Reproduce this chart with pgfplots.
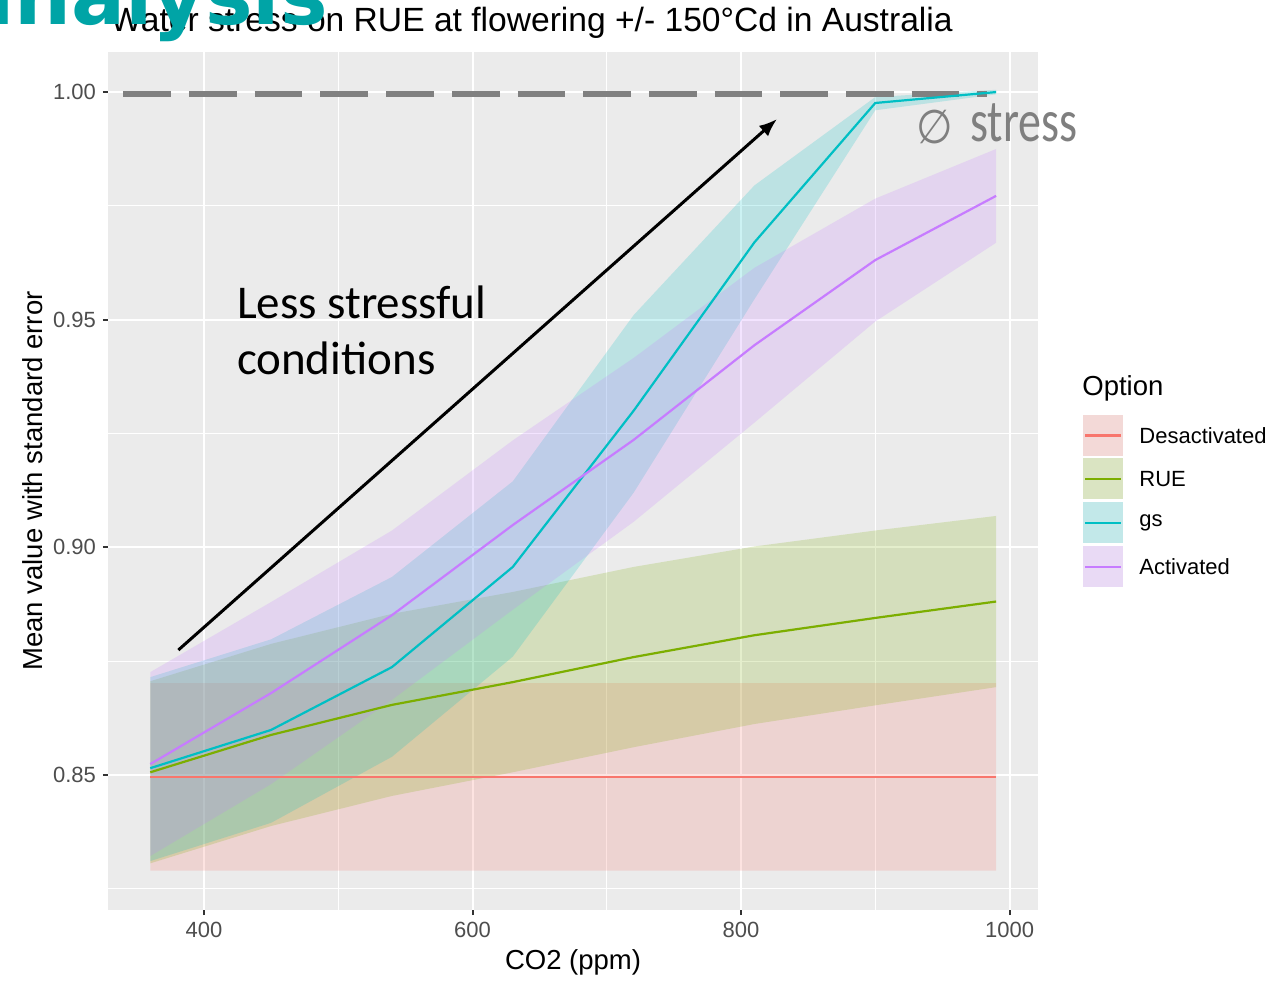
\documentclass[border=0pt]{standalone}
\usepackage{fontspec}
\setmainfont{Liberation Sans}
\newfontfamily\carlito{Carlito}
\newfontfamily\dejavu{DejaVu Sans}
\usepackage{pgfplots}
\pgfplotsset{compat=1.18}
\usepackage{pgfplotstable}
\usetikzlibrary{arrows.meta}
\usepgfplotslibrary{fillbetween}

\definecolor{cD}{HTML}{F8766D}
\definecolor{cR}{HTML}{7CAE00}
\definecolor{cG}{HTML}{00BFC4}
\definecolor{cA}{HTML}{C77CFF}
\definecolor{panel}{HTML}{EBEBEB}
\definecolor{tickc}{HTML}{333333}
\definecolor{labc}{HTML}{4D4D4D}
\definecolor{dashc}{HTML}{808080}
\definecolor{tealt}{HTML}{00A4A6}
\definecolor{keybg}{HTML}{F2F2F2}
\definecolor{anngray}{HTML}{7F7F7F}

\pgfplotstableread{
x   mD     loD    hiD    mR     loR    hiR    mG     loG    hiG    mA     loA    hiA
360 0.8496 0.8290 0.8702 0.8506 0.8306 0.8706 0.8515 0.8311 0.8715 0.8524 0.8322 0.8726
450 0.8496 0.8290 0.8702 0.8588 0.8388 0.8788 0.8599 0.8395 0.8798 0.8680 0.8480 0.8880
540 0.8496 0.8290 0.8702 0.8654 0.8454 0.8854 0.8737 0.8540 0.8935 0.8851 0.8665 0.9037
630 0.8496 0.8290 0.8702 0.8704 0.8506 0.8902 0.8957 0.8760 0.9145 0.9049 0.8863 0.9235
720 0.8496 0.8290 0.8702 0.8759 0.8561 0.8957 0.9300 0.9120 0.9510 0.9236 0.9056 0.9416
810 0.8496 0.8290 0.8702 0.8807 0.8612 0.9002 0.9670 0.9545 0.9795 0.9444 0.9274 0.9614
900 0.8496 0.8290 0.8702 0.8845 0.8653 0.9037 0.9976 0.9960 0.9989 0.9631 0.9496 0.9766
990 0.8496 0.8290 0.8702 0.8881 0.8693 0.9069 1.0000 0.9995 1.0005 0.9772 0.9669 0.9875
}\data

\begin{document}
\begin{tikzpicture}
\begin{axis}[
  set layers,
  at={(0pt,0pt)}, anchor=south west,
  scale only axis, width=465pt, height=429pt,
  xmin=328.5, xmax=1021.2, ymin=0.82035, ymax=1.0088,
  axis background/.style={fill=panel},
  axis line style={draw=none},
  xtick={400,600,800,1000}, xticklabels={400,600,800,1000},
  ytick={0.85,0.90,0.95,1.00}, yticklabels={0.85,0.90,0.95,1.00},
  minor xtick={500,700,900}, minor ytick={0.825,0.875,0.925,0.975},
  grid=both,
  major grid style={white, line width=1pt},
  minor grid style={white, line width=0.5pt},
  xtick pos=bottom, ytick pos=left,
  tick align=outside,
  major tick length=2.5pt, minor tick length=0pt,
  tick style={draw=tickc, line width=1pt},
  /pgf/number format/assume math mode=true,
  tick label style={font=\fontsize{11}{11}\selectfont, text=labc},
  clip=false,
]
% ribbons
\addplot[draw=none, name path=Dh, forget plot] table[x=x, y=hiD]{\data};
\addplot[draw=none, name path=Dl, forget plot] table[x=x, y=loD]{\data};
\addplot[fill=cD, fill opacity=0.2, draw=none] fill between[of=Dh and Dl];
\addplot[draw=none, name path=Rh, forget plot] table[x=x, y=hiR]{\data};
\addplot[draw=none, name path=Rl, forget plot] table[x=x, y=loR]{\data};
\addplot[fill=cR, fill opacity=0.2, draw=none] fill between[of=Rh and Rl];
\addplot[draw=none, name path=Gh, forget plot] table[x=x, y=hiG]{\data};
\addplot[draw=none, name path=Gl, forget plot] table[x=x, y=loG]{\data};
\addplot[fill=cG, fill opacity=0.2, draw=none] fill between[of=Gh and Gl];
\addplot[draw=none, name path=Ah, forget plot] table[x=x, y=hiA]{\data};
\addplot[draw=none, name path=Al, forget plot] table[x=x, y=loA]{\data};
\addplot[fill=cA, fill opacity=0.2, draw=none] fill between[of=Ah and Al];
% no-stress reference line
\addplot[dashc, line width=3pt, dash pattern=on 23.85pt off 9pt] coordinates {(339.9,0.99963) (983.2,0.99963)};
% mean lines
\addplot[cD, line width=1.1pt] table[x=x, y=mD]{\data};
\addplot[cR, line width=1.1pt] table[x=x, y=mR]{\data};
\addplot[cG, line width=1.1pt] table[x=x, y=mG]{\data};
\addplot[cA, line width=1.1pt] table[x=x, y=mA]{\data};
% arrow annotation
\draw[-{Latex[length=9pt,width=7pt]}, line width=1.5pt, black] (axis cs:380.9,0.87745) -- (axis cs:826.8,0.99407);
\end{axis}

% axis labels and title
\node[anchor=center, font=\fontsize{13.75}{13.75}\selectfont] at (232.5pt,-26pt) {CO2 (ppm)};
\node[anchor=center, rotate=90, font=\fontsize{13.75}{13.75}\selectfont] at (-37.5pt,214.5pt) {Mean value with standard error};
\node[anchor=base west, inner sep=0pt, font=\fontsize{16.8}{16.8}\selectfont] at (1pt,439pt) {Water stress on RUE at flowering +/- 150°Cd in Australia};
\node[anchor=base east, inner sep=0pt, text=tealt, font=\dejavu\bfseries\fontsize{40}{40}\selectfont] at (110pt,442.5pt) {analysis};

% annotations
\node[anchor=base west, inner sep=0pt, font=\carlito\fontsize{23.5}{23.5}\selectfont] at (64.3pt,295.5pt) {Less stressful};
\node[anchor=base west, inner sep=0pt, font=\carlito\fontsize{23.5}{23.5}\selectfont] at (64.3pt,267.5pt) {conditions};
\node[anchor=base west, inner sep=0pt, text=anngray] at (431pt,384pt) {\scalebox{1}[1.3]{\carlito\fontsize{23}{23}\selectfont stress}};
\node[anchor=base west, inner sep=0pt, text=anngray] at (404pt,383pt) {\scalebox{1}[1.12]{\dejavu\fontsize{21}{21}\selectfont ∅}};

% legend
\node[anchor=west, inner sep=0pt, font=\fontsize{13.75}{13.75}\selectfont] at (487pt,261pt) {Option};
\foreach \c/\lab/\yy in {cD/Desactivated/237.25, cR/RUE/215.5, cG/gs/193.5, cA/Activated/171.5}{
  \fill[\c!20!keybg] (487.5pt,\yy pt-10.25pt) rectangle (507.5pt,\yy pt+10.25pt);
  \draw[\c, line width=1.1pt] (488.5pt,\yy pt) -- (506.5pt,\yy pt);
  \node[anchor=west, inner sep=0pt, font=\fontsize{11}{11}\selectfont] at (515.5pt,\yy pt) {\lab};
}

\pgfresetboundingbox
\path (-54pt,-35pt) rectangle (582.5pt,455pt);
\end{tikzpicture}
\end{document}
